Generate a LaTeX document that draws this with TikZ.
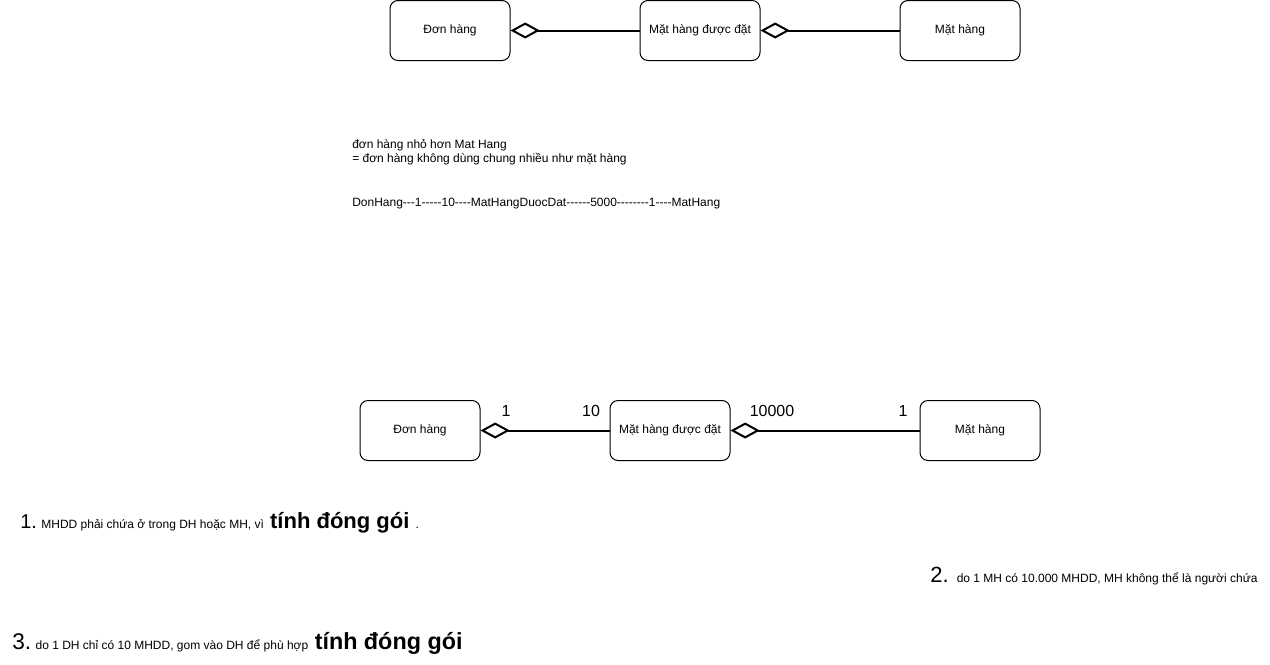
\documentclass[tikz,border=0pt]{standalone}
\usepackage{fontspec}
\setmainfont{Liberation Sans}[Ligatures=TeXOff]
\usetikzlibrary{arrows.meta,positioning}

\begin{document}
\begin{tikzpicture}[
  x=0.75pt, y=-0.75pt,
  box/.style={draw,rounded corners=6pt,minimum width=90pt,minimum height=45pt,font=\fontsize{9}{11}\selectfont,line width=0.75pt},
  agg/.style={{Diamond[open,length=22pt,width=12pt]}-,line width=1.5pt},
  num/.style={font=\fontsize{12}{14}\selectfont},
  note/.style={anchor=base west,inner sep=0pt,font=\fontsize{9}{11}\selectfont}
]
\useasboundingbox (0,0) rectangle (1270,664);
% Top row
\node[box] (dh1) at (450,30.5) {Đơn hàng};
\node[box] (mhdd1) at (700,30.5) {Mặt hàng được đặt};
\node[box] (mh1) at (960,30.5) {Mặt hàng};
\draw[agg] (dh1) -- (mhdd1);
\draw[agg] (mhdd1) -- (mh1);
% Notes
\node[note] (n1) at (352,148.5) {đơn hàng nhỏ hơn Mat Hang};
\node[note] (n2) at (352,162.5) {= đơn hàng không dùng chung nhiều như mặt hàng};
\node[note] (n3) at (352,206.5) {DonHang---1-----10----MatHangDuocDat------5000--------1----MatHang};
% Bottom row
\node[box] (dh2) at (420,430.5) {Đơn hàng};
\node[box] (mhdd2) at (670,430.5) {Mặt hàng được đặt};
\node[box] (mh2) at (980,430.5) {Mặt hàng};
\draw[agg] (dh2) -- (mhdd2);
\draw[agg] (mhdd2) -- (mh2);
\node[num] (m1) at (506,411) {1};
\node[num] (m2) at (591,411) {10};
\node[num] (m3) at (772,411) {10000};
\node[num] (m4) at (903,411) {1};
% Reasons
\node[note] (r1) at (20,528) {{\fontsize{15}{18}\selectfont 1.} MHDD phải chứa ở trong DH hoặc MH, vì{\fontsize{16.5}{20}\selectfont\bfseries{} tính đóng gói }.};
\node[note] (r2) at (930,582) {{\fontsize{16.5}{20}\selectfont 2. }do 1 MH có 10.000 MHDD, MH không thể là người chứa};
\node[note] (r3) at (12,649) {{\fontsize{17}{20}\selectfont 3.} do 1 DH chỉ có 10 MHDD, gom vào DH để phù hợp{\fontsize{17.5}{21}\selectfont\bfseries{} tính đóng gói}};
\end{tikzpicture}
\end{document}
